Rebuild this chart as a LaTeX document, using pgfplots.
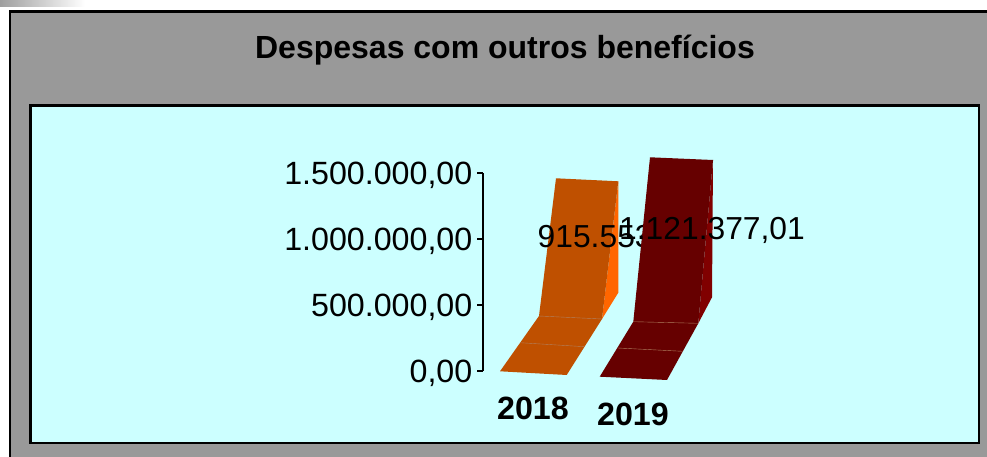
\documentclass[border=0pt]{standalone}
\usepackage{fontspec}
\setmainfont{Liberation Sans}
\usepackage{pgfplots}
\pgfplotsset{compat=1.18}
\definecolor{panelgray}{HTML}{999999}
\definecolor{panelcyan}{HTML}{CCFFFF}
\definecolor{orangefront}{HTML}{BF5000}
\definecolor{orangeside}{HTML}{FF6600}
\definecolor{redfront}{HTML}{660000}
\definecolor{redside}{HTML}{800000}
\definecolor{foldline}{HTML}{B08060}
\begin{document}
\begin{tikzpicture}[x=1pt,y=1pt]
% Frame and panels, in picture pixels
\begin{axis}[at={(0pt,0pt)},anchor=south west,scale only axis,width=987pt,height=457pt,
  xmin=0,xmax=987,ymin=0,ymax=457,y dir=reverse,hide axis,clip=true]
\addplot[draw=none,forget plot,fill=white] coordinates {(0,0)(987,0)(987,457)(0,457)} -- cycle;
\fill[left color=black!38,right color=white] (axis cs:0,0) rectangle (axis cs:85,7);
\addplot[draw=none,forget plot,fill=panelgray] coordinates {(9.8,11.3)(987,11.3)(987,457)(9.8,457)} -- cycle;
\addplot[black,line width=2.6pt,forget plot] coordinates {(9.8,457)(9.8,11.3)(987,11.3)};
\addplot[draw=black,line width=2.5pt,fill=panelcyan,forget plot] coordinates {(30.5,105.5)(978.8,105.5)(978.8,442.8)(30.5,442.8)} -- cycle;
\node[font=\fontsize{32}{32}\selectfont\bfseries] at (axis cs:505,50.5) {Despesas com outros benefícios};
\end{axis}
% Chart
\begin{axis}[at={(483pt,86.3pt)},anchor=south west,scale only axis,width=504pt,height=197.4pt,
  xmin=483,xmax=987,ymin=0,ymax=1500000,clip=false,
  axis x line=none,axis y line*=left,axis line style={black,line width=2.3pt,-},
  ytick={0,500000,1000000,1500000},
  scaled y ticks=false,
  yticklabels={{0,00},{500.000,00},{1.000.000,00},{1.500.000,00}},
  tick style={black,line width=2pt},
  tickwidth=6pt,
  tick align=outside,
  yticklabel style={font=\fontsize{32.2}{32.2}\selectfont,inner sep=0pt,xshift=-4.5pt,yshift=-2.3pt},
  ]
% 2018
\addplot[draw=none,fill=orangeside,forget plot] coordinates {(618.3,1439213)(618.3,592706)(602,392858)} -- cycle;
\addplot[draw=none,fill=orangefront,forget plot] coordinates {(500,-4559)(566.7,-32675)(602,392858)(618.3,1439213)(556,1462009)(539,415654)} -- cycle;
\addplot[foldline,line width=0.4pt,forget plot] coordinates {(539,415654)(602,392858)};
\addplot[foldline,line width=0.4pt,forget plot] coordinates {(520,212766)(584.3,182371)};
\addplot[draw=none,forget plot] coordinates {(537.5,1005000)} node[anchor=west,inner sep=0pt,font=\fontsize{31.8}{31.8}\selectfont] {915.553,00};
% 2019
\addplot[draw=none,fill=redside,forget plot] coordinates {(713,1601067)(712,557752)(698.3,360183)} -- cycle;
\addplot[draw=none,fill=redfront,forget plot] coordinates {(599.7,-45593)(667,-70669)(698.3,360183)(713,1601067)(650,1621584)(633.3,372341)} -- cycle;
\addplot[foldline,line width=0.4pt,forget plot] coordinates {(633.3,372341)(698.3,360183)};
\addplot[foldline,line width=0.4pt,forget plot] coordinates {(617.7,172493)(682.7,147417)};
\addplot[draw=none,forget plot] coordinates {(619,1065000)} node[anchor=west,inner sep=0pt,font=\fontsize{31.8}{31.8}\selectfont] {1.121.377,01};
\addplot[draw=none,forget plot] coordinates {(533,-285000)} node[font=\fontsize{32.2}{32.2}\selectfont\bfseries,inner sep=0pt] {2018};
\addplot[draw=none,forget plot] coordinates {(633,-330000)} node[font=\fontsize{32.2}{32.2}\selectfont\bfseries,inner sep=0pt] {2019};
\end{axis}
\end{tikzpicture}
\end{document}
